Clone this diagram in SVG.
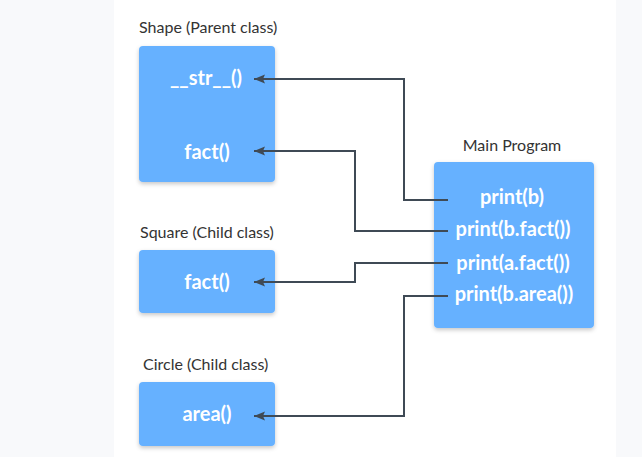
<svg xmlns="http://www.w3.org/2000/svg" width="642" height="457" viewBox="0 0 642 457">
<defs>
<style>
.box{fill:#66b1ff;filter:url(#sh)}
.lbl{font-family:Lato,"Liberation Sans",sans-serif;font-size:16px;fill:#333}
.mt{font-family:Lato,"Liberation Sans",sans-serif;font-size:20px;font-weight:bold;fill:#fff;text-anchor:middle}
.c{fill:none;stroke:#3f4a55;stroke-width:2}
</style>
<filter id="sh" x="-10%" y="-10%" width="120%" height="130%">
<feDropShadow dx="0" dy="2" stdDeviation="2" flood-color="#000" flood-opacity="0.22"/>
</filter>
<marker id="ah" markerWidth="12" markerHeight="10" refX="11" refY="5" orient="auto" markerUnits="userSpaceOnUse" viewBox="0 0 12 10">
<path d="M0,0.5 L11,5 L0,9.5 L2,5 Z" fill="#3f4a55"/>
</marker>
</defs>
<rect x="0" y="0" width="642" height="457" fill="#f8f9fb"/>
<rect x="114" y="0" width="502" height="457" fill="#fff"/>
<g id="shape">
<text class="lbl" x="139" y="33">Shape (Parent class)</text>
<rect class="box" x="139" y="46" width="136" height="136" rx="4"/>
<text class="mt" x="206" y="85">__str__()</text>
<text class="mt" x="207" y="159">fact()</text>
</g>
<g id="square">
<text class="lbl" x="140" y="238">Square (Child class)</text>
<rect class="box" x="139" y="250" width="136" height="63" rx="4"/>
<text class="mt" x="207" y="289">fact()</text>
</g>
<g id="circle">
<text class="lbl" x="143" y="370">Circle (Child class)</text>
<rect class="box" x="139" y="382" width="136" height="64" rx="4"/>
<text class="mt" x="207" y="421">area()</text>
</g>
<g id="main">
<text class="lbl" x="512" y="151" text-anchor="middle">Main Program</text>
<rect class="box" x="434" y="162" width="160" height="166" rx="4"/>
<text class="mt" x="512" y="204">print(b)</text>
<text class="mt" x="513" y="236">print(b.fact())</text>
<text class="mt" x="513" y="270">print(a.fact())</text>
<text class="mt" x="514" y="301">print(b.area())</text>
</g>
<g id="connectors">
<path class="c" d="M448,200 H404 V79 H254" marker-end="url(#ah)"/>
<path class="c" d="M448,231 H355 V151 H254" marker-end="url(#ah)"/>
<path class="c" d="M448,263 H355 V282 H254" marker-end="url(#ah)"/>
<path class="c" d="M448,296 H404 V416 H254" marker-end="url(#ah)"/>
</g>
</svg>
